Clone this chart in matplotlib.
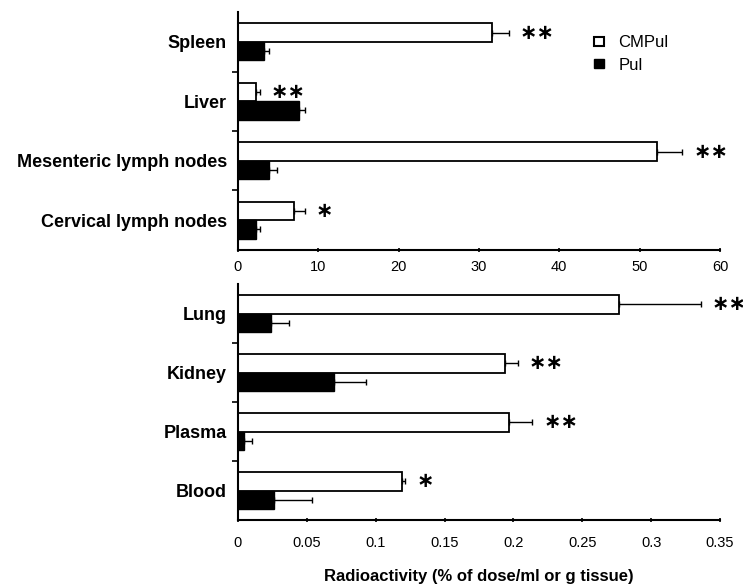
import numpy as np
import matplotlib
matplotlib.use('Agg')
import matplotlib.pyplot as plt
import matplotlib.patches as mpatches

plt.rcParams['font.family'] = ['Liberation Sans', 'DejaVu Sans']

# ── data ───────────────────────────────────────────────
top_cats = ['Spleen', 'Liver', 'Mesenteric lymph nodes', 'Cervical lymph nodes']
top_cmpul = [31.6, 2.2, 52.1, 7.0]
top_cmpul_err = [2.1, 0.5, 3.2, 1.3]
top_pul = [3.3, 7.6, 3.9, 2.2]
top_pul_err = [0.5, 0.7, 1.0, 0.5]
top_stars = ['**', '**', '**', '*']
top_ticks = [0, 10, 20, 30, 40, 50, 60]

bot_cats = ['Lung', 'Kidney', 'Plasma', 'Blood']
bot_cmpul = [0.277, 0.194, 0.1965, 0.119]
bot_cmpul_err = [0.059, 0.009, 0.017, 0.0025]
bot_pul = [0.024, 0.0697, 0.0043, 0.0262]
bot_pul_err = [0.013, 0.0235, 0.0056, 0.0275]
bot_stars = ['**', '**', '**', '*']
bot_ticks = [0, 0.05, 0.1, 0.15, 0.2, 0.25, 0.3, 0.35]
bot_ticklabels = ['0', '0.05', '0.1', '0.15', '0.2', '0.25', '0.3', '0.35']

XLABEL = 'Radioactivity (% of dose/ml or g tissue)'


def draw_panel(ax, cats, cmpul, cmpul_err, pul, pul_err, stars, ticks, ticklabels, xmax, pad):
    y = np.arange(len(cats))
    h = 0.31
    off = 0.155
    ekw = dict(ecolor='black', elinewidth=1.0, capsize=2.5, capthick=1.0)
    ax.barh(y - off, cmpul, height=h, color='white', edgecolor='black', linewidth=1.3,
            xerr=[np.zeros(len(cats)), cmpul_err], error_kw=ekw, clip_on=False)
    ax.barh(y + off, pul, height=h, color='black', edgecolor='black', linewidth=1.0,
            xerr=[np.zeros(len(cats)), pul_err], error_kw=ekw, clip_on=False)
    for yi, v, e, s in zip(y, cmpul, cmpul_err, stars):
        ax.annotate(s.replace('*', '\u2217'), xy=(v + e, yi - off), xytext=(8, 0),
                    textcoords='offset points', ha='left', va='center',
                    fontsize=15, fontweight='bold', family=['DejaVu Sans'],
                    annotation_clip=False)

    ax.set_xlim(0, xmax)
    ax.set_ylim(len(cats) - 0.5, -0.5)
    ax.set_yticks(y)
    ax.set_yticklabels(cats, fontsize=13, fontweight='bold')
    ax.tick_params(axis='y', length=0, pad=8)
    ax.set_yticks(np.arange(len(cats) - 1) + 0.5, minor=True)
    ax.tick_params(axis='y', which='minor', length=4, width=1.2, direction='out')
    ax.set_xticks(ticks)
    ax.set_xticklabels(ticklabels, fontsize=10.5)
    ax.tick_params(axis='x', length=3, width=1.2, direction='inout', pad=pad)
    ax.spines[['top', 'right']].set_visible(False)
    ax.spines['left'].set_linewidth(1.5)
    ax.spines['bottom'].set_linewidth(1.5)


fig = plt.figure(figsize=(7.43, 5.86), dpi=100)
ax1 = fig.add_axes([0.3203, 0.5734, 0.6487, 0.4061])
ax2 = fig.add_axes([0.3203, 0.1126, 0.6487, 0.4027])

draw_panel(ax1, top_cats, top_cmpul, top_cmpul_err, top_pul, top_pul_err, top_stars,
           top_ticks, [str(t) for t in top_ticks], 60, 6)
draw_panel(ax2, bot_cats, bot_cmpul, bot_cmpul_err, bot_pul, bot_pul_err, bot_stars,
           bot_ticks, bot_ticklabels, 0.35, 10)

ax2.set_xlabel(XLABEL, fontsize=12, fontweight='bold', labelpad=14)

handles = [mpatches.Patch(facecolor='white', edgecolor='black', linewidth=1.5, label='CMPul'),
           mpatches.Patch(facecolor='black', edgecolor='black', label='Pul')]
ax1.legend(handles=handles, loc='upper left', bbox_to_anchor=(0.800, 0.94),
           bbox_transform=fig.transFigure, frameon=False, fontsize=12,
           handlelength=0.55, handleheight=0.45, handletextpad=0.9,
           labelspacing=0.45, borderpad=0, borderaxespad=0)

fig.savefig('out.png', dpi=100)
